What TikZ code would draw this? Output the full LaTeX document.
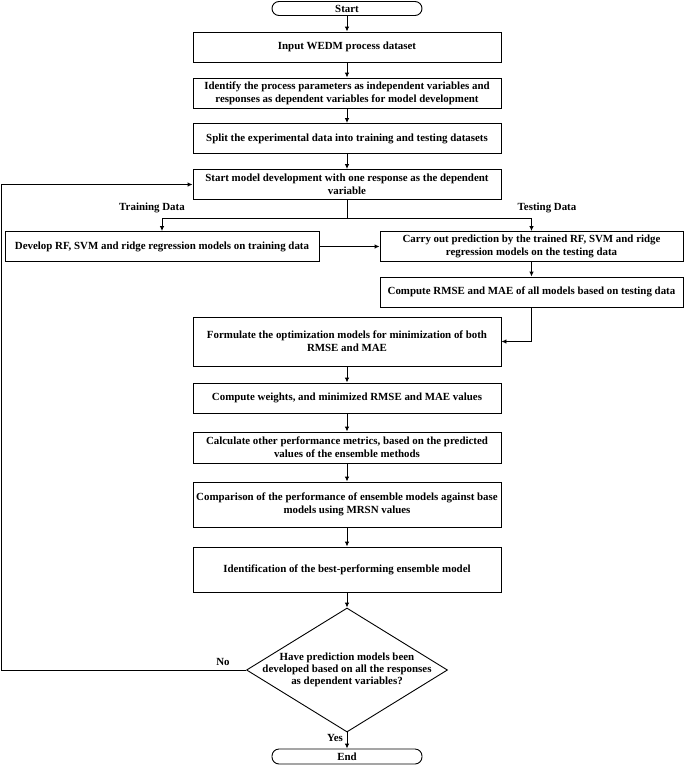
\documentclass[tikz,border=0pt]{standalone}
\usepackage{fontspec}
\setmainfont{Liberation Serif}
\usetikzlibrary{shapes.geometric,arrows.meta}

\begin{document}
\begin{tikzpicture}[x=1pt,y=-1pt,line width=0.9pt,>={Latex[length=5pt,width=4.5pt]},
  font=\bfseries\fontsize{10.9}{13.3}\selectfont,
  procbox/.style={draw,rectangle,align=center,minimum width=308pt,minimum height=30pt,inner sep=1pt},
  termbox/.style={draw,rectangle,rounded corners=7pt,minimum width=150pt,minimum height=14pt,inner sep=0pt},
  decbox/.style={draw,diamond,minimum width=201pt,minimum height=124pt,inner sep=0pt},
  dectext/.style={align=center,inner sep=0pt,font=\bfseries\fontsize{10.9}{11.7}\selectfont}]

 \useasboundingbox (0,0) rectangle (685,766);

% Main column
 \node[termbox] (start) at (347,8.5) {Start};
 \node[procbox] (input) at (347,47) {Input WEDM process dataset};
 \node[procbox] (ident) at (347,93) {Identify the process parameters as independent variables and\\responses as dependent variables for model development};
 \node[procbox] (split) at (347,138.5) {Split the experimental data into training and testing datasets};
 \node[procbox] (model) at (347,184.5) {Start model development with one response as the dependent\\variable};

% Training / testing branch
 \coordinate (branch) at (347,218);
 \node (trainlbl) at (152,208) {Training Data};
 \node (testlbl) at (547,208) {Testing Data};
 \node[procbox,minimum width=314pt] (develop) at (162,246.5) {Develop RF, SVM and ridge regression models on training data};
 \node[procbox,minimum width=303pt] (carry) at (531.5,246.5) {Carry out prediction by the trained RF, SVM and ridge\\regression models on the testing data};
 \node[procbox,minimum width=303pt] (rmse) at (531.5,292) {Compute RMSE and MAE of all models based on testing data};

% Ensemble steps
 \node[procbox,minimum height=49pt] (formulate) at (347,341.5) {Formulate the optimization models for minimization of both\\RMSE and MAE};
 \node[procbox] (weights) at (347,398) {Compute weights, and minimized RMSE and MAE values};
 \node[procbox,minimum height=31pt] (calc) at (347,447.5) {Calculate other performance metrics, based on the predicted\\values of the ensemble methods};
 \node[procbox,minimum height=45pt] (compare) at (347,504.5) {Comparison of the performance of ensemble models against base\\models using MRSN values};
 \node[procbox,minimum height=45pt] (best) at (347,569.5) {Identification of the best-performing ensemble model};

% Decision
 \node[decbox] (dec) at (347,670) {};
 \node[dectext] (dectxt) at (dec) {Have prediction models been\\developed based on all the responses\\as dependent variables?};
 \node[termbox,minimum height=15pt] (end) at (347,756.5) {End};
 \coordinate (loop) at (1.5,670);
 \node (nolbl) at (223,662) {No};
 \node (yeslbl) at (335,738) {Yes};

% Arrows
 \draw[->] (start) -- (input);
 \draw[->] (input) -- (ident);
 \draw[->] (ident) -- (split);
 \draw[->] (split) -- (model);
 \draw (model) -- (branch);
 \draw[->] (branch) -| (develop);
 \draw[->] (branch) -| (carry);
 \draw[->] (develop) -- (carry);
 \draw[->] (carry) -- (rmse);
 \draw[->] (rmse) |- (formulate);
 \draw[->] (formulate) -- (weights);
 \draw[->] (weights) -- (calc);
 \draw[->] (calc) -- (compare);
 \draw[->] (compare) -- (best);
 \draw[->] (best) -- (dec);
 \draw[->] (dec) -- (end);
 \draw[->] (dec.west) -- (loop) |- (model.west);

\end{tikzpicture}
\end{document}
